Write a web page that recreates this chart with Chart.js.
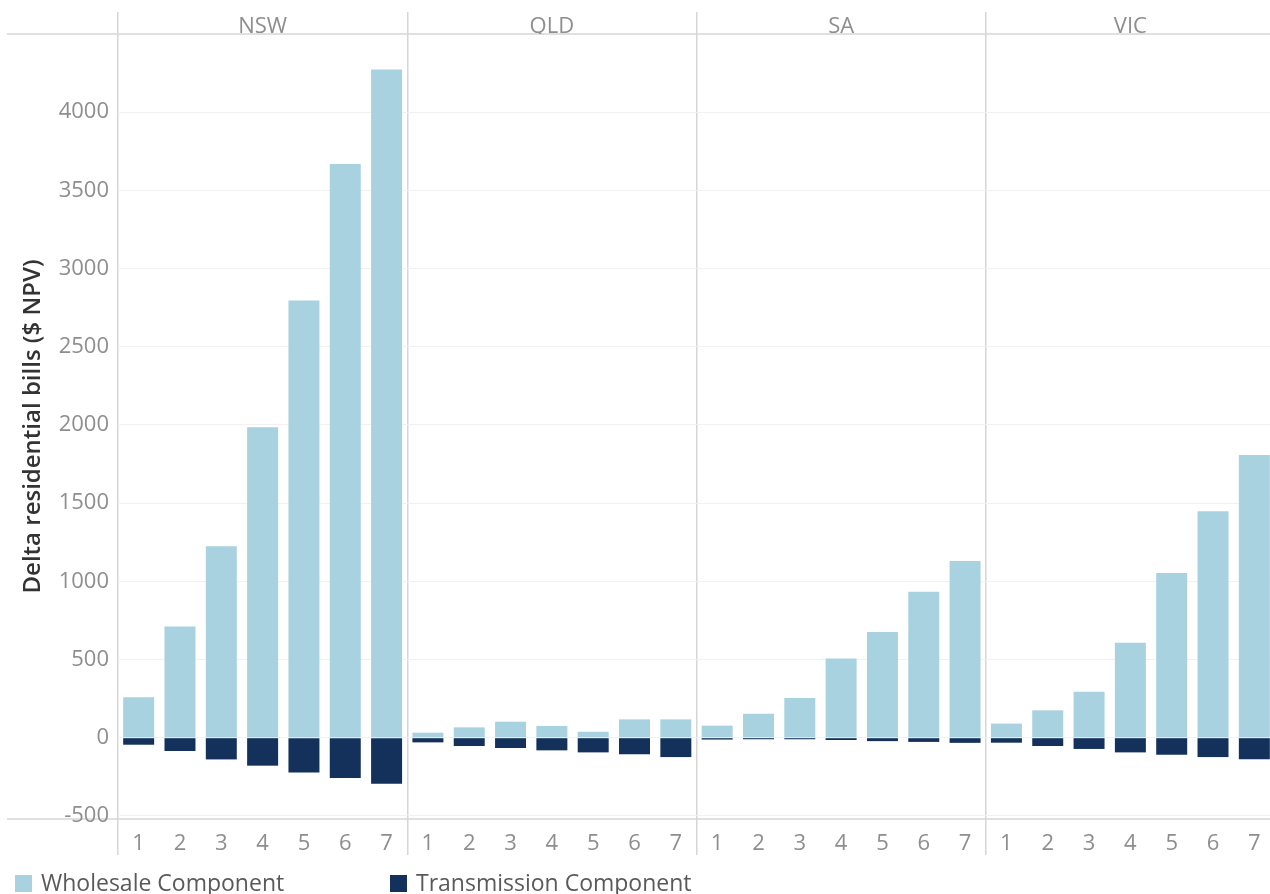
<!DOCTYPE html>
<html>
<head>
<meta charset="utf-8">
<script src="https://cdn.jsdelivr.net/npm/chart.js@4.4.0/dist/chart.umd.min.js"></script>
<style>
  html, body { margin: 0; padding: 0; background: #fff; overflow: hidden; }
  #wrap { position: relative; width: 1270px; height: 894px; overflow: hidden; }
  #legend { position: absolute; left: 15px; top: 866px; font: 23px 'Open Sans', sans-serif; color: #5a5a5a; white-space: nowrap; }
  #legend span.item { position: absolute; top: 0; }
  #legend i { display: inline-block; width: 17px; height: 17px; margin-right: 9px; vertical-align: -1px; }
</style>
</head>
<body>
<div id="wrap">
  <canvas id="chart" width="1275" height="894"></canvas>
  <div id="legend"></div>
</div>
<script>
// regions shown as panels, scenarios 1..7 inside each
const regions = ['NSW', 'QLD', 'SA', 'VIC'];
const scenarios = ['1', '2', '3', '4', '5', '6', '7'];

const wholesaleNSW = [258, 711, 1224, 1985, 2795, 3668, 4273];
const wholesaleQLD = [32, 66, 102, 75, 38, 117, 117];
const wholesaleSA = [77, 153, 254, 507, 676, 934, 1130];
const wholesaleVIC = [90, 175, 294, 607, 1053, 1448, 1808];

const transNSW = [-45, -85, -139, -179, -222, -258, -294];
const transQLD = [-30, -53, -66, -81, -94, -106, -124];
const transSA = [-12, -10, -10, -15, -22, -27, -33];
const transVIC = [-32, -53, -72, -94, -109, -124, -138];

const yTicks = [-500, 0, 500, 1000, 1500, 2000, 2500, 3000, 3500, 4000];

const lightBlue = '#a8d2df';
const navy = '#13315b';
const lineGrey = '#d6d6d6';
const font = "'Open Sans', sans-serif";

const xLabels = regions.flatMap(() => scenarios);
const wholesale = [].concat(wholesaleNSW, wholesaleQLD, wholesaleSA, wholesaleVIC);
const transmission = [].concat(transNSW, transQLD, transSA, transVIC);

// long horizontal rules at the top and bottom of the plot, reaching into the y axis area
// drawn first so the header text sits on top of them
const frameLines = {
  id: 'frameLines',
  beforeDraw(chart) {
    const { ctx, chartArea } = chart;
    ctx.save();
    ctx.strokeStyle = lineGrey;
    ctx.lineWidth = 1.5;
    [chartArea.top, chartArea.bottom].forEach(y => {
      ctx.beginPath();
      ctx.moveTo(7, y);
      ctx.lineTo(chart.width, y);
      ctx.stroke();
    });
    ctx.restore();
  }
};

const chart = new Chart(document.getElementById('chart'), {
  type: 'bar',
  data: {
    labels: xLabels,
    datasets: [
      { label: 'Wholesale Component', data: wholesale, backgroundColor: lightBlue, stack: 's' },
      { label: 'Transmission Component', data: transmission, backgroundColor: navy, stack: 's' }
    ]
  },
  options: {
    responsive: false,
    animation: false,
    layout: { padding: 0 },
    datasets: { bar: { barPercentage: 0.75, categoryPercentage: 1 } },
    plugins: { legend: { display: false }, tooltip: { enabled: false } },
    scales: {
      x: {
        stacked: true,
        position: 'bottom',
        offset: true,
        border: { display: false },
        grid: {
          offset: true,
          drawOnChartArea: true,
          tickLength: 36,
          color: ctx => (ctx.index % 7 === 0 ? lineGrey : 'rgba(0,0,0,0)'),
          lineWidth: 1.5
        },
        ticks: { color: '#8e8e8e', font: { family: font, size: 22 }, padding: -24, maxRotation: 0, autoSkip: false },
        afterFit: s => { s.height = 75; }
      },
      x2: {
        type: 'category',
        labels: regions,
        position: 'top',
        offset: true,
        border: { display: false },
        grid: { offset: true, drawOnChartArea: false, tickLength: 22, color: lineGrey, lineWidth: 1.5 },
        ticks: { color: '#8e8e8e', font: { family: font, size: 22 }, padding: -28 },
        afterFit: s => { s.height = 34; }
      },
      y: {
        stacked: true,
        min: -520,
        max: 4500,
        border: { display: false },
        grid: { color: '#f1f1f1', drawTicks: false },
        afterBuildTicks: s => { s.ticks = yTicks.map(v => ({ value: v })); },
        ticks: { color: '#8e8e8e', font: { family: font, size: 22 }, padding: 9, callback: v => String(v) },
        title: {
          display: true,
          text: 'Delta residential bills ($ NPV)',
          color: '#333',
          font: { family: font, size: 24, weight: '600' },
          padding: { top: 19, bottom: 0 }
        },
        afterFit: s => { s.width = 118; }
      }
    }
  },
  plugins: [frameLines]
});

// legend as html text, built from the datasets
const legend = document.getElementById('legend');
const legendX = [0, 375];
chart.data.datasets.forEach((ds, i) => {
  const item = document.createElement('span');
  item.className = 'item';
  item.style.left = legendX[i] + 'px';
  item.innerHTML = '<i style="background:' + ds.backgroundColor + '"></i>' + ds.label;
  legend.appendChild(item);
});
</script>
</body>
</html>
